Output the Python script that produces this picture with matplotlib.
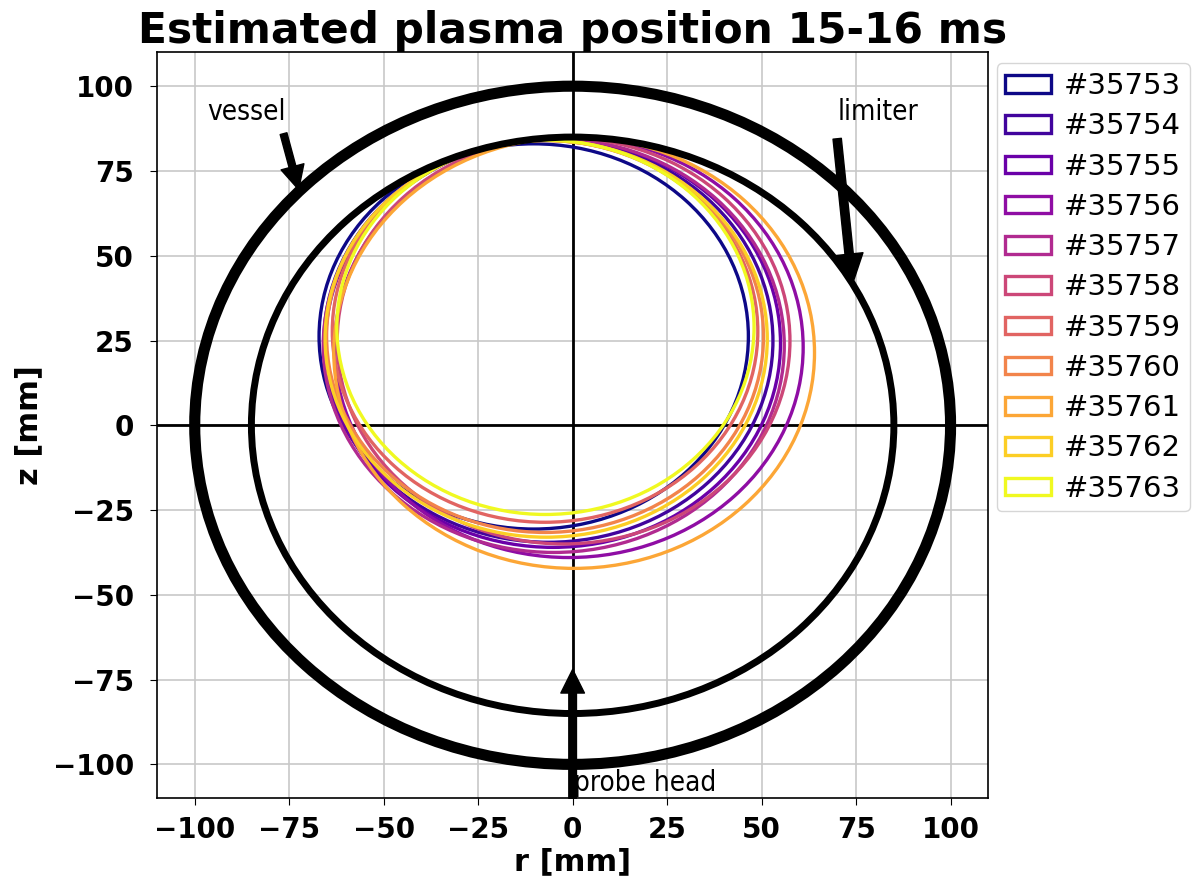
import numpy as np
import matplotlib
matplotlib.use("Agg")
import matplotlib.pyplot as plt
from matplotlib.patches import Circle

shots = ["#35753", "#35754", "#35755", "#35756", "#35757", "#35758",
         "#35759", "#35760", "#35761", "#35762", "#35763"]
r0 = [-10.3, -6.4, -5.2, -1.0, -5.0, -2.4, -7.3, -7.3, 0.4, -7.0, -7.2]
z0 = [26.2, 24.9, 24.2, 23.0, 23.5, 24.9, 27.7, 26.2, 21.4, 25.5, 28.9]
a = [56.8, 59.4, 60.2, 62.0, 61.0, 59.9, 56.3, 57.8, 63.6, 58.5, 55.2]
vessel_radius = 100
limiter_radius = 85
xticks = [-100, -75, -50, -25, 0, 25, 50, 75, 100]
yticks = [-100, -75, -50, -25, 0, 25, 50, 75, 100]

fig = plt.figure(figsize=(11.98, 8.86), dpi=100)
ax = fig.add_axes([0.131, 0.099, 0.694, 0.842])

colors = plt.cm.plasma(np.linspace(0, 1, len(shots)))
for i, s in enumerate(shots):
    ax.add_patch(Circle((r0[i], z0[i]), a[i], fill=False, edgecolor=colors[i],
                        lw=2.4, label=s, zorder=3))

ax.add_patch(Circle((0, 0), vessel_radius, fill=False, edgecolor='black', lw=8, zorder=4))
ax.add_patch(Circle((0, 0), limiter_radius, fill=False, edgecolor='black', lw=5, zorder=4))
ax.axhline(0, color='black', lw=2, zorder=2)
ax.axvline(0, color='black', lw=2, zorder=2)

ax.set_xlim(-110, 110)
ax.set_ylim(-110, 110)
ax.set_xticks(xticks)
ax.set_yticks(yticks)
ax.grid(True, color='#c8c8c8', lw=1.2)
ax.set_axisbelow(True)
for lab in ax.get_xticklabels() + ax.get_yticklabels():
    lab.set_fontweight('bold')
    lab.set_fontsize(20)
ax.tick_params(axis='x', length=5, pad=8)
ax.tick_params(axis='y', length=5, pad=11.5)
for sp in ax.spines.values():
    sp.set_linewidth(1.2)

ax.set_xlabel('r [mm]', fontsize=22, fontweight='bold', labelpad=2)
ax.set_ylabel('z [mm]', fontsize=22, fontweight='bold', labelpad=7)
ax.set_title('Estimated plasma position 15-16 ms', fontsize=30.5, fontweight='bold', pad=7)

txt_kw = dict(fontsize=20, fontstretch='condensed', ha='left', va='center', zorder=6)
ax.text(-96.7, 92.3, 'vessel', **txt_kw)
ax.annotate('', xy=(-72.5, 69.5), xytext=(-76.5, 86),
            arrowprops=dict(facecolor='black', edgecolor='black', width=5, headwidth=17,
                            headlength=17, shrink=0), zorder=6)
ax.text(70.1, 92.3, 'limiter', **txt_kw)
ax.annotate('', xy=(74, 41.5), xytext=(70, 84.5),
            arrowprops=dict(facecolor='black', edgecolor='black', width=6, headwidth=20,
                            headlength=22, shrink=0), zorder=6)
ax.annotate('', xy=(0, -72), xytext=(0, -110),
            arrowprops=dict(facecolor='black', edgecolor='black', width=5.5, headwidth=17,
                            headlength=17, shrink=0), zorder=6, annotation_clip=False)
ax.text(0.3, -105.6, 'probe head', **txt_kw)

ax.legend(loc='upper left', bbox_to_anchor=(1.01, 0.985), borderaxespad=0, fontsize=21,
          handlelength=1.55, handleheight=0.55, handletextpad=0.45, labelspacing=0.42,
          borderpad=0.3)

fig.savefig('out.png', dpi=100)
